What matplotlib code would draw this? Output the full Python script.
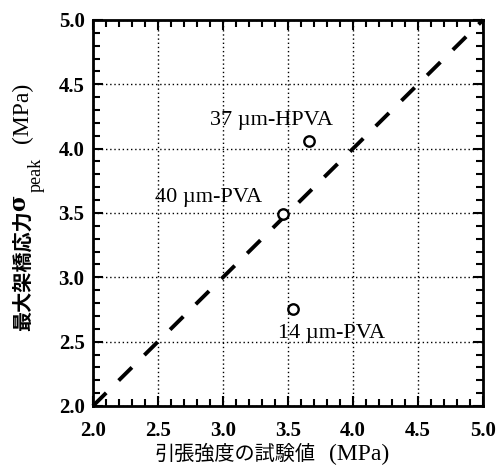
import matplotlib
matplotlib.use('Agg')
import matplotlib.pyplot as plt
from matplotlib.ticker import MultipleLocator

# measured points: tensile test value vs peak bridging stress (MPa)
labels = ['37 µm-HPVA', '40 µm-PVA', '14 µm-PVA']
tensile = [3.66, 3.46, 3.54]
peak = [4.06, 3.49, 2.75]
label_xy = [(2.90, 4.22), (2.48, 3.62), (3.42, 2.56)]
ticks = [2.0, 2.5, 3.0, 3.5, 4.0, 4.5, 5.0]

FAM = ['Liberation Serif', 'Noto Sans CJK JP']
plt.rcParams['font.family'] = FAM

W, H = 497, 474
fig = plt.figure(figsize=(W / 100, H / 100), dpi=100)
ax = fig.add_axes([0.187, 0.1435, 0.785, 0.8145])

ax.set_xlim(2, 5); ax.set_ylim(2, 5)
ax.set_xticks(ticks); ax.set_yticks(ticks)
ax.xaxis.set_minor_locator(MultipleLocator(0.1))
ax.yaxis.set_minor_locator(MultipleLocator(0.1))
ax.set_xticklabels([f'{t:.1f}' for t in ticks], fontsize=15, fontweight='bold')
ax.set_yticklabels([f'{t:.1f}' for t in ticks], fontsize=15, fontweight='bold')
ax.tick_params(which='both', direction='in', top=True, right=True, width=1.5, color='black')
ax.tick_params(which='major', length=7, pad=6)
ax.tick_params(axis='x', which='major', pad=11)
ax.tick_params(which='minor', length=5)
for s in ax.spines.values():
    s.set_linewidth(2.0)

ax.grid(True, which='major', color='black', linestyle=(0, (1, 2)), linewidth=1.0)
ax.set_axisbelow(True)

# 1:1 line
ax.plot(ticks, ticks, color='black', lw=2.8, dashes=(4.8, 4.5), zorder=2, clip_on=False)
ax.plot(tensile, peak, 'o', ms=7.5, mfc='white', mec='black', mew=1.7, zorder=3)
for lab, (tx, ty) in zip(labels, label_xy):
    ax.text(tx, ty, lab, fontsize=16, ha='left', va='center', zorder=4)

# axis labels placed by pixel (pieces, as in the scanned original)
def px(x, y):
    return x / W, 1 - y / H

fig.text(*px(155, 455), '引張強度の試験値', fontsize=14.5, ha='left', va='center')
fig.text(*px(329, 454), '(MPa)', fontsize=17, ha='left', va='center')

fig.text(*px(22, 271), '最大架橋応力', fontsize=14.5, fontweight='bold',
         family='Noto Sans CJK JP', rotation=90, ha='center', va='center')
fig.text(*px(19, 203), 'σ', fontsize=16, fontweight='bold', family='DejaVu Serif',
         rotation=90, ha='center', va='center')
fig.text(*px(36, 175), 'peak', fontsize=13, rotation=90, ha='center', va='center')
fig.text(*px(22, 113), '(MPa)', fontsize=17, rotation=90, ha='center', va='center')

fig.savefig('out.png', dpi=100)
